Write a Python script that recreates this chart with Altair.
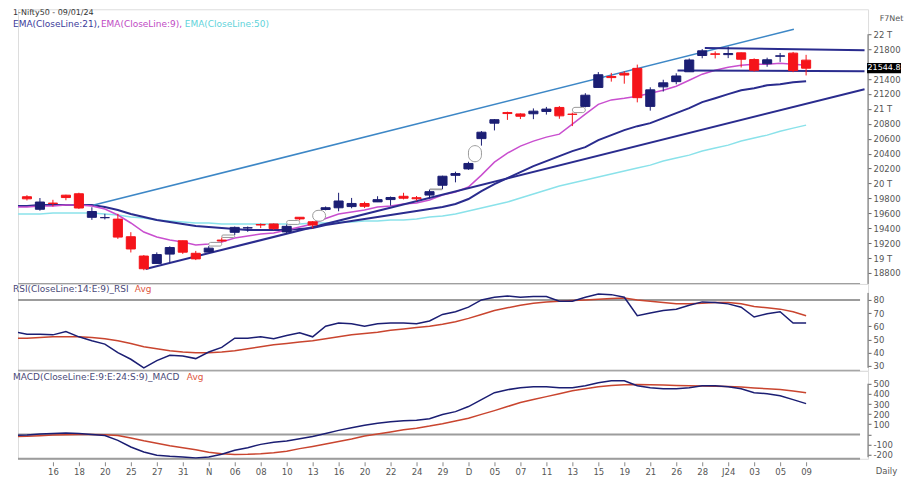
import json
import altair as alt
import pandas as pd

# ---------------- data ----------------
dates = ["2023-10-12","2023-10-13","2023-10-16","2023-10-17","2023-10-18","2023-10-19","2023-10-20",
         "2023-10-23","2023-10-25","2023-10-26","2023-10-27","2023-10-30","2023-10-31","2023-11-01",
         "2023-11-02","2023-11-03","2023-11-06","2023-11-07","2023-11-08","2023-11-09","2023-11-10",
         "2023-11-12","2023-11-13","2023-11-15","2023-11-16","2023-11-17","2023-11-20","2023-11-21",
         "2023-11-22","2023-11-23","2023-11-24","2023-11-28","2023-11-29","2023-11-30","2023-12-01",
         "2023-12-04","2023-12-05","2023-12-06","2023-12-07","2023-12-08","2023-12-11","2023-12-12",
         "2023-12-13","2023-12-14","2023-12-15","2023-12-18","2023-12-19","2023-12-20","2023-12-21",
         "2023-12-22","2023-12-26","2023-12-27","2023-12-28","2023-12-29","2024-01-01","2024-01-02",
         "2024-01-03","2024-01-04","2024-01-05","2024-01-08","2024-01-09"]
opens = [19822,19654,19737,19843,19862,19546,19542,19522,19286,19027,18928,19053,19232,19064,19080,19241,
         19345,19404,19450,19457,19351,19547,19486,19651,19674,19690,19731,19753,19784,19828,19809,19844,
         19976,20109,20195,20601,20808,20950,20932,20934,20965,21019,20929,21033,21287,21434,21477,21543,
         21033,21295,21365,21497,21715,21737,21727,21751,21661,21605,21705,21747,21653]
highs = [19843,19805,19781,19849,19876,19681,19593,19593,19347,19041,19076,19158,19233,19096,19161,19276,
         19423,19423,19464,19464,19451,19548,19495,19692,19875,19806,19756,19829,19825,19875,19832,19916,
         20104,20158,20291,20702,20864,20962,20941,21006,21026,21037,20950,21210,21493,21482,21505,21593,
         21289,21390,21477,21675,21801,21770,21834,21755,21677,21686,21749,21763,21724]
lows = [19772,19635,19691,19775,19659,19512,19518,19257,19075,18837,18926,18941,19056,18973,19079,19210,
        19309,19352,19402,19378,19329,19504,19398,19640,19627,19667,19670,19751,19703,19786,19768,19801,
        19926,20015,20183,20507,20711,20852,20863,20862,20923,20867,20769,21020,21287,21365,21337,21087,
        20976,21232,21329,21495,21678,21676,21680,21555,21500,21564,21629,21492,21448]
closes = [19794,19751,19731,19811,19671,19624,19542,19281,19122,18857,19047,19141,19079,18989,19133,19230,
          19411,19406,19443,19395,19425,19525,19443,19675,19765,19732,19694,19783,19812,19802,19795,19890,
          20097,20133,20268,20687,20855,20937,20901,20969,20997,20906,20926,21183,21457,21419,21453,21150,
          21255,21349,21441,21655,21778,21731,21742,21665,21518,21658,21711,21513,21544.8]

# candles after which a price gap is marked with an oval
gap_after = [15, 16, 21, 23, 32, 35, 43]

# indicator series: first value belongs to the session before the first candle
ema9 = [19684,19684,19697,19697,19711,19711,19697,19657,19577,19470,19349,19282,19242,19215,19175,19188,
        19215,19269,19296,19323,19336,19376,19416,19456,19530,19590,19617,19644,19684,19697,19724,19738,
        19778,19845,19885,19952,20112,20286,20407,20501,20568,20621,20661,20795,20929,21060,21120,21143,
        21170,21210,21250,21304,21384,21465,21518,21558,21585,21598,21598,21612,21598,21585]
ema21 = [19697,19697,19711,19711,19711,19711,19711,19684,19644,19590,19550,19510,19483,19456,19430,19416,
         19403,19390,19376,19376,19376,19376,19390,19403,19443,19470,19497,19523,19550,19577,19604,19630,
         19657,19684,19724,19791,19898,19992,20072,20153,20233,20300,20367,20434,20487,20581,20648,20715,
         20768,20809,20876,20942,21009,21090,21143,21197,21250,21277,21317,21331,21357,21371]
ema50 = [19590,19590,19590,19604,19604,19604,19604,19590,19577,19550,19537,19510,19497,19483,19470,19470,
         19456,19456,19456,19456,19456,19456,19456,19470,19470,19483,19483,19497,19497,19510,19510,19523,
         19550,19564,19590,19630,19671,19711,19751,19805,19858,19912,19965,20005,20046,20086,20126,20166,
         20206,20246,20300,20340,20380,20434,20474,20514,20568,20608,20648,20701,20742,20782]
rsi_vals = [56,54,54,53.5,56,52,49,46.5,40,35,28.5,34,38,37.5,35.5,40.5,44,51,51,52,50.5,53,55,52,60,62.5,
            62,60,62,62.5,62.5,62,64,69,71,74.5,80,82,83,82,82.5,82.5,79,79,82,84.5,84,82,68,70,72,73,76,
            78.5,78,77,74.5,67,69.5,71,62.5,62.5]
rsi_avg = [51,51,51.5,52,52,52,51.5,50.5,49,47,44.5,43,41.5,40.5,40,40,40.5,41.5,43,44.5,46,47,48,49,50.5,
           52,53.5,54.5,55.5,57,58,59,60,61.5,63.5,66,69,72,74,76,77.5,78.5,79,79.5,80,80.5,81,81.5,80,79,
           78,77,77,77.5,78,78,77,75,74,73,71,68]
macd_vals = [-10,-5,5,10,15,10,0,-10,-59,-124,-173,-206,-216,-222,-232,-222,-196,-157,-131,-98,-78,-65,-42,
             -20,10,40,65,90,110,125,135,140,155,196,225,275,343,412,441,461,470,470,461,461,480,510,529,529,
             480,461,451,451,461,480,480,470,451,412,402,382,343,304]
macd_avg = [-20,-18,-12,-6,-2,0,0,-3,-10,-35,-63,-88,-112,-132,-152,-175,-190,-199,-196,-190,-180,-165,-140,
            -118,-95,-70,-45,-15,5,25,45,62,82,105,132,160,198,235,275,314,345,373,402,431,450,470,482,490,
            492,490,487,483,480,478,476,473,468,458,450,442,428,412]

# drawn trend lines (candle index, price)
upper_channel_idx = [5.15, 59.06]
upper_channel_val = [19711, 22067]
trend_names = ["trend", "trend", "resist", "resist", "support", "support"]
trend_idx = [9.14, 64.5, 52.2, 64.5, 50.1, 64.5]
trend_val = [18854, 21264, 21815, 21786, 21514, 21505]

xtick_idx = list(range(2, 61, 2))
xtick_labels = ["16","18","20","25","27","31","N","06","08","10","13","16","20","22","24","29",
                "D","05","07","11","13","15","19","21","26","28","J24","03","05","09"]
price_ticks = list(range(18800, 22001, 200))
price_hidden_label = 21600   # covered by the last-price box in the reference
rsi_ticks = [30, 40, 50, 60, 70, 80]
macd_ticks = [-200, -100, 0, 100, 200, 300, 400, 500]
rsi_level = [80]
macd_level = [0]
# vertical extent of each value-axis line
price_axis_span = [22000, 18653]
rsi_axis_span = [85.3, 28.5]
macd_axis_span = [500, -225]

title_text = "1-Nifty50 - 09/01/24"
legend_texts = ["EMA(CloseLine:21),", "EMA(CloseLine:9),", "EMA(CloseLine:50)"]
rsi_title = ["RSI(CloseLine:14:E:9)_RSI", "Avg"]
macd_title = ["MACD(CloseLine:E:9:E:24:S:9)_MACD", "Avg"]

# ---------------- style ----------------
FONT = "DejaVu Sans"
NAVY = "#1b1e73"
RED = "#f5141a"
EMA21_C = "#2a2c8e"
EMA9_C = "#c94fcf"
EMA50_C = "#8ae2ea"
CHAN_C = "#3d87c6"
AVG_C = "#c9452f"
GREY = "#9c9c9c"
LABEL = "#555555"
AXIS_C = "#666666"
W, H1, H2, H3 = 851, 275, 87, 88
RULE_END = 843

xs = alt.Scale(domain=[-0.69, 64.77], nice=False, zero=False)


def X(f, axis=None):
    return alt.X(f, scale=xs, axis=axis)


def text_layer(text, x, y, color, size=9):
    return alt.Chart(pd.DataFrame({"t": [text]})).mark_text(
        align="left", baseline="middle", font=FONT, fontSize=size, color=color, clip=False
    ).encode(text="t:N", x=alt.value(x), y=alt.value(y))


def hrule(height_px):
    return alt.Chart(pd.DataFrame({"k": [0]})).mark_rule(color=GREY, strokeWidth=2).encode(
        x=alt.value(0), x2=alt.value(RULE_END), y=alt.value(height_px))


def axis_line(span, yfun):
    df = pd.DataFrame({"a": [span[0]], "b": [span[1]]})
    return alt.Chart(df).mark_rule(color=AXIS_C, strokeWidth=1, clip=False).encode(
        x=alt.value(W), y=yfun("a:Q"), y2="b:Q")


def value_axis(values, expr):
    return alt.Axis(orient="right", values=values, labelExpr=expr, title=None, grid=False, domain=False,
                    tickSize=3, tickColor=AXIS_C, labelFontSize=8.5, labelColor=LABEL, labelFont=FONT,
                    labelPadding=2, labelOverlap=False, labelFlush=False)


# ---------------- tables ----------------
cd = pd.DataFrame({"idx": list(range(len(dates))), "date": dates, "o": opens, "h": highs,
                   "l": lows, "c": closes})
cd["dir"] = ["up" if c >= o else "down" for o, c in zip(opens, closes)]
cd["lo"] = cd[["o", "c"]].min(axis=1)
cd["hi"] = cd[["o", "c"]].max(axis=1)
cd["xl"] = cd["idx"] - 0.35
cd["xr"] = cd["idx"] + 0.35

ind = pd.DataFrame({"idx": list(range(-1, len(dates))), "ema9": ema9, "ema21": ema21, "ema50": ema50,
                    "rsi": rsi_vals, "rsi_avg": rsi_avg, "macd": macd_vals, "macd_avg": macd_avg})

gd = pd.DataFrame({
    "xl": [g - 1.0 for g in gap_after],
    "xr": [g - 0.0 for g in gap_after],
    "lo": [highs[g - 1] for g in gap_after],
    "hi": [lows[g] for g in gap_after],
})
up_df = pd.DataFrame({"idx": upper_channel_idx, "v": upper_channel_val})
tr_df = pd.DataFrame({"seg": trend_names, "idx": trend_idx, "v": trend_val})
last_df = pd.DataFrame({"c": [closes[-1]], "lab": [f"{closes[-1]:.1f}"]})

dir_scale = alt.Scale(domain=["up", "down"], range=[NAVY, RED])

# ---------------- price panel ----------------
p_scale = alt.Scale(domain=[18653, 22335], nice=False, zero=False)
p_axis = alt.Axis(orient="right", values=price_ticks,
                  labelExpr=("datum.value == %d ? '' : (datum.value %% 1000 == 0 ? "
                             "(datum.value / 1000) + ' T' : '' + datum.value)") % price_hidden_label,
                  title="F7Net", titleAngle=0, titleX=23, titleY=9, titleAlign="center",
                  titleBaseline="middle", titleFontSize=8, titleFontWeight="normal", titleColor=LABEL,
                  titleFont=FONT, grid=False, domain=False, tickSize=3, tickColor=AXIS_C,
                  labelFontSize=8.5, labelColor=LABEL, labelFont=FONT, labelPadding=2,
                  labelOverlap=False, labelFlush=False)


def PY(f):
    return alt.Y(f, scale=p_scale, axis=p_axis)


ib = alt.Chart(ind)
l50 = ib.mark_line(color=EMA50_C, strokeWidth=1.5, clip=True).encode(x=X("idx:Q"), y=PY("ema50:Q"))
l21 = ib.mark_line(color=EMA21_C, strokeWidth=2, clip=True).encode(x=X("idx:Q"), y=PY("ema21:Q"))
l9 = ib.mark_line(color=EMA9_C, strokeWidth=1.5, clip=True).encode(x=X("idx:Q"), y=PY("ema9:Q"))
chan = alt.Chart(up_df).mark_line(color=CHAN_C, strokeWidth=1.6, clip=True).encode(
    x=X("idx:Q"), y=PY("v:Q"))
trends = alt.Chart(tr_df).mark_line(color=EMA21_C, strokeWidth=2, clip=True).encode(
    x=X("idx:Q"), y=PY("v:Q"), detail="seg:N")
gaps = alt.Chart(gd).mark_rect(fill="white", stroke="#9a9a9a", strokeWidth=1, cornerRadius=8,
                               clip=True).encode(x=X("xl:Q"), x2="xr:Q", y=PY("lo:Q"), y2="hi:Q")
cb = alt.Chart(cd)
wicks = cb.mark_rule(strokeWidth=1, clip=True).encode(
    x=X("idx:Q"), y=PY("l:Q"), y2="h:Q", color=alt.Color("dir:N", scale=dir_scale, legend=None))
bodies = cb.mark_rect(strokeWidth=1, clip=True).encode(
    x=X("xl:Q"), x2="xr:Q", y=PY("lo:Q"), y2="hi:Q",
    color=alt.Color("dir:N", scale=dir_scale, legend=None),
    stroke=alt.Stroke("dir:N", scale=dir_scale, legend=None))
box = alt.Chart(last_df).mark_point(shape="M-1,-0.3L1,-0.3L1,0.3L-1,0.3Z", size=1156, filled=True,
                                    color="black", opacity=1, clip=False).encode(
    x=alt.value(867), y=PY("c:Q"))
box_t = alt.Chart(last_df).mark_text(color="white", font=FONT, fontSize=8, clip=False).encode(
    x=alt.value(867), y=PY("c:Q"), text="lab:N")

price = alt.layer(
    l50, l21, l9, chan, trends, gaps, wicks, bodies, hrule(H1), axis_line(price_axis_span, PY), box, box_t,
    text_layer(title_text, -5, 4, "#333333", 8),
    text_layer(legend_texts[0], -5, 15, "#3b3b9a"),
    text_layer(legend_texts[1], 83, 15, "#c04ac4"),
    text_layer(legend_texts[2], 167, 15, "#5fd3da"),
).properties(width=W, height=H1)

# ---------------- RSI panel ----------------
r_scale = alt.Scale(domain=[26.2, 92.1], nice=False, zero=False)
r_axis = value_axis(rsi_ticks, "'' + datum.value")


def RY(f):
    return alt.Y(f, scale=r_scale, axis=r_axis)


r80 = alt.Chart(pd.DataFrame({"lvl": rsi_level})).mark_rule(color=GREY, strokeWidth=2).encode(
    x=alt.value(0), x2=alt.value(RULE_END), y=RY("lvl:Q"))
r_avg = ib.mark_line(color=AVG_C, strokeWidth=1.5, clip=True).encode(x=X("idx:Q"), y=RY("rsi_avg:Q"))
r_line = ib.mark_line(color=NAVY, strokeWidth=1.5, clip=True).encode(x=X("idx:Q"), y=RY("rsi:Q"))
rsi_panel = alt.layer(
    r80, hrule(H2), axis_line(rsi_axis_span, RY), r_avg, r_line,
    text_layer(rsi_title[0], -5, 5, "#4a4a78"),
    text_layer(rsi_title[1], 117, 5, "#e0583f"),
).properties(width=W, height=H2)

# ---------------- MACD panel ----------------
m_scale = alt.Scale(domain=[-240, 627], nice=False, zero=False)
m_axis = value_axis(macd_ticks, "datum.value == 0 ? '' : '' + datum.value")


def MY(f):
    return alt.Y(f, scale=m_scale, axis=m_axis)


x_axis = alt.Axis(values=xtick_idx,
                  labelExpr=json.dumps(xtick_labels) + "[round((datum.value - 2) / 2)]",
                  title="Daily", titleX=869, titleY=9, titleAlign="center", titleBaseline="middle",
                  titleFontSize=8.5, titleFontWeight="normal", titleColor=LABEL, titleFont=FONT,
                  domain=False, ticks=True, tickSize=4, tickColor="#888", offset=3, grid=False,
                  labelFontSize=8.5, labelColor=LABEL, labelFont=FONT, labelPadding=2,
                  labelOverlap=False, labelFlush=False)

m0 = alt.Chart(pd.DataFrame({"lvl": macd_level})).mark_rule(color=GREY, strokeWidth=2).encode(
    x=alt.value(0), x2=alt.value(RULE_END), y=MY("lvl:Q"))
m_avg = ib.mark_line(color=AVG_C, strokeWidth=1.5, clip=True).encode(x=X("idx:Q", x_axis),
                                                                      y=MY("macd_avg:Q"))
m_line = ib.mark_line(color=NAVY, strokeWidth=1.5, clip=True).encode(x=X("idx:Q", x_axis),
                                                                     y=MY("macd:Q"))
macd_panel = alt.layer(
    m0, hrule(H3), axis_line(macd_axis_span, MY), m_avg, m_line,
    text_layer(macd_title[0], -5, 6, "#4a4a78"),
    text_layer(macd_title[1], 169, 6, "#e0583f"),
).properties(width=W, height=H3)

chart = alt.vconcat(price, rsi_panel, macd_panel, spacing=0, bounds="flush").resolve_scale(
    x="independent", y="independent", color="independent", stroke="independent"
).properties(
    padding={"left": 4, "top": 0, "right": 0, "bottom": 0}
).configure_view(stroke=None).configure(font=FONT)

chart.save("out.html", embed_options={"renderer": "svg", "actions": False})
